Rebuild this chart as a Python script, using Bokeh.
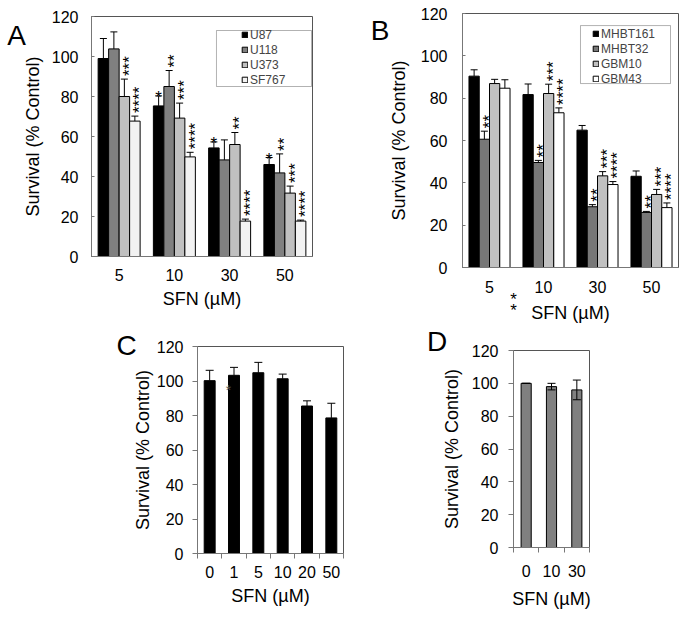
import math
from bokeh.plotting import figure
from bokeh.models import (FactorRange, Range1d, ColumnDataSource, Whisker, TeeHead,
                          Legend, LegendItem, BoxAnnotation, Label, FixedTicker)
from bokeh.transform import dodge
from bokeh.layouts import row, column
from bokeh.embed import file_html
from bokeh.resources import INLINE
from bokeh.core.properties import value

FONT = "Liberation Sans"
y_ticks = [0, 20, 40, 60, 80, 100, 120]
y_title = "Survival (% Control)"
x_title = "SFN (µM)"

# ---------------- Panel A ----------------
a_doses = ["5", "10", "30", "50"]
a_lines = ["U87", "U118", "U373", "SF767"]
a_colors = ["#000000", "#808080", "#c0c0c0", "#f2f2f2"]
a_u87 = [99.0, 75.3, 54.3, 46.0]
a_u118 = [103.8, 85.0, 48.3, 41.8]
a_u373 = [80.0, 69.2, 56.0, 31.7]
a_sf767 = [67.7, 49.8, 17.7, 17.7]
a_u87_err = [10.0, 5.0, 3.0, 3.5]
a_u118_err = [8.5, 8.0, 10.0, 9.5]
a_u373_err = [8.7, 7.5, 6.0, 3.5]
a_sf767_err = [2.5, 2.3, 1.0, 0.5]
a_u87_sig = ["", "*", "*", "*"]
a_u118_sig = ["", "**", "", "**"]
a_u373_sig = ["***", "***", "**", "***"]
a_sf767_sig = ["****", "****", "****", "****"]

# ---------------- Panel B ----------------
b_doses = ["5", "10", "30", "50"]
b_lines = ["MHBT161", "MHBT32", "GBM10", "GBM43"]
b_colors = ["#000000", "#777777", "#c0c0c0", "#ffffff"]
b_mhbt161 = [90.4, 81.7, 64.9, 43.1]
b_mhbt32 = [60.6, 49.6, 28.7, 26.0]
b_gbm10 = [86.9, 82.2, 43.3, 34.5]
b_gbm43 = [84.7, 73.1, 39.2, 28.3]
b_mhbt161_err = [3.0, 5.0, 2.2, 2.5]
b_mhbt32_err = [3.8, 1.0, 1.0, 0.5]
b_gbm10_err = [2.0, 4.4, 2.0, 2.4]
b_gbm43_err = [4.0, 2.3, 1.4, 2.2]
b_mhbt161_sig = ["", "", "", ""]
b_mhbt32_sig = ["**", "**", "**", "**"]
b_gbm10_sig = ["", "***", "***", "***"]
b_gbm43_sig = ["", "****", "****", "****"]

# ---------------- Panel C ----------------
c_doses = ["0", "1", "5", "10", "20", "50"]
c_means = [100.2, 103.3, 104.8, 101.3, 85.5, 78.6]
c_err = [6.0, 4.6, 6.0, 2.7, 3.0, 8.5]

# ---------------- Panel D ----------------
d_doses = ["0", "10", "30"]
d_means = [100.0, 98.0, 96.0]
d_err = [0.0, 2.0, 6.0]


def base_fig(x_range, width, height, left, right, top, bottom):
    p = figure(x_range=x_range, y_range=Range1d(0, 120), width=width, height=height,
               min_border_left=left, min_border_right=right,
               min_border_top=top, min_border_bottom=bottom,
               output_backend="svg", toolbar_location=None)
    p.xgrid.grid_line_color = None
    p.ygrid.grid_line_color = None
    p.outline_line_color = "#555555"
    p.background_fill_color = "white"
    p.border_fill_color = "white"
    p.yaxis.ticker = FixedTicker(ticks=y_ticks)
    for ax in p.axis:
        ax.major_label_text_font = FONT
        ax.major_label_text_font_size = "16px"
        ax.major_label_text_color = "black"
        ax.axis_label_text_font = FONT
        ax.axis_label_text_font_size = "18px"
        ax.axis_label_text_font_style = "normal"
        ax.axis_label_text_color = "black"
        ax.axis_line_color = "#777777"
        ax.major_tick_line_color = "#777777"
        ax.minor_tick_line_color = None
    p.yaxis.axis_label = y_title
    p.xaxis.axis_label = x_title
    return p


def canvas_text(p, x, y, t, size, color="black"):
    # placed in a side panel so that it is not clipped to the plot frame
    p.add_layout(Label(x=x, y=y, x_units="canvas", y_units="canvas", text=t,
                       text_align="center", text_baseline="alphabetic",
                       text_font=FONT, text_font_size=size, text_color=color), "left")


def grouped(doses, lines, colors, means, errs, sigs, dims, leg_loc, leg_font, leg_lh, box):
    p = base_fig(FactorRange(*doses), *dims)
    p.xaxis.major_tick_line_color = None
    p.yaxis.major_tick_out = 0
    p.yaxis.major_tick_in = 3
    items = []
    offs = [-0.285, -0.095, 0.095, 0.285]
    star_jobs = []
    for i, name in enumerate(lines):
        upper = [m + e for m, e in zip(means[i], errs[i])]
        src = ColumnDataSource(dict(x=doses, top=means[i], upper=upper))
        r = p.vbar(x=dodge("x", offs[i], range=p.x_range), top="top", width=0.19,
                   fill_color=colors[i], line_color="black", line_width=1, source=src)
        items.append(LegendItem(label=name, renderers=[r]))
        p.add_layout(Whisker(base=dodge("x", offs[i], range=p.x_range), upper="upper",
                             lower="top", source=src, line_color="black", line_width=1,
                             level="overlay",
                             upper_head=TeeHead(size=7, line_color="black", line_width=1),
                             lower_head=None))
        star_jobs.append((offs[i], upper, sigs[i]))
    for off, upper, sig in star_jobs:
        rot = ColumnDataSource(dict(x=[d for d, s in zip(doses, sig) if len(s) > 1],
                                    y=[u for u, s in zip(upper, sig) if len(s) > 1],
                                    t=[s for s in sig if len(s) > 1]))
        one = ColumnDataSource(dict(x=[d for d, s in zip(doses, sig) if len(s) == 1],
                                    y=[u for u, s in zip(upper, sig) if len(s) == 1],
                                    t=[s for s in sig if len(s) == 1]))
        p.text(x=dodge("x", off, range=p.x_range), y="y", text="t", source=rot,
               angle=math.pi / 2, text_align="left", text_baseline="alphabetic",
               x_offset=5, y_offset=-3, text_font=value(FONT), text_font_size="17px",
               text_color="black")
        p.text(x=dodge("x", off, range=p.x_range), y="y", text="t", source=one,
               text_align="center", text_baseline="alphabetic", y_offset=2,
               text_font=value(FONT), text_font_size="17px", text_color="black")
    leg = Legend(items=items, location=leg_loc, padding=0, margin=0, spacing=0,
                 label_height=leg_lh, glyph_height=7, glyph_width=7, label_standoff=2,
                 label_text_font=FONT, label_text_font_size=leg_font,
                 border_line_alpha=0, background_fill_alpha=0)
    p.add_layout(leg)
    p.add_layout(BoxAnnotation(left=box[0], right=box[1], bottom=box[2], top=box[3],
                               fill_alpha=0, line_color="black", line_width=1))
    return p


# Panel A
pA = grouped(a_doses, a_lines, a_colors,
             [a_u87, a_u118, a_u373, a_sf767],
             [a_u87_err, a_u118_err, a_u373_err, a_sf767_err],
             [a_u87_sig, a_u118_sig, a_u373_sig, a_sf767_sig],
             (345, 325, 91, 33, 16, 69), (150, 169), "12px", 15,
             (2.262, 3.982, 85, 113))
pA.yaxis.major_label_standoff = 13
pA.yaxis.axis_label_standoff = 6
pA.xaxis.major_label_standoff = 6
pA.xaxis.axis_label_standoff = 5
canvas_text(pA, 16, 35, "A", "28px")

# Panel B
pB = grouped(b_doses, b_lines, b_colors,
             [b_mhbt161, b_mhbt32, b_gbm10, b_gbm43],
             [b_mhbt161_err, b_mhbt32_err, b_gbm10_err, b_gbm43_err],
             [b_mhbt161_sig, b_mhbt32_sig, b_gbm10_sig, b_gbm43_sig],
             (343, 325, 117, 10, 13, 58), (130, 181), "12px", 15,
             (2.185, 3.852, 86.9, 114.3))
pB.yaxis.major_label_standoff = 15
pB.yaxis.axis_label_standoff = 9
pB.xaxis.major_label_standoff = 7
pB.xaxis.axis_label_standoff = 7
canvas_text(pB, 34.5, 30, "B", "28px")
canvas_text(pB, 168, 298.7, "*", "17px")
canvas_text(pB, 168, 309.7, "*", "17px")


def single(doses, means, errs, color, width, dims, both):
    p = base_fig(Range1d(0, len(doses)), *dims)
    centers = [i + 0.5 for i in range(len(doses))]
    bounds = list(range(len(doses) + 1))
    p.xaxis.ticker = FixedTicker(ticks=centers, minor_ticks=bounds)
    p.xaxis.major_label_overrides = {c: d for c, d in zip(centers, doses)}
    p.xaxis.major_tick_out = 0
    p.xaxis.major_tick_in = 0
    p.xaxis.minor_tick_line_color = "#777777"
    p.xaxis.minor_tick_out = 5
    p.xaxis.minor_tick_in = 0
    p.yaxis.major_tick_out = 5
    p.yaxis.major_tick_in = 0
    upper = [m + e for m, e in zip(means, errs)]
    lower = [m - e for m, e in zip(means, errs)]
    src = ColumnDataSource(dict(x=centers, top=means, upper=upper,
                                lower=lower if both else means))
    p.vbar(x="x", top="top", width=width, fill_color=color, line_color="black",
           line_width=1, source=src)
    p.add_layout(Whisker(base="x", upper="upper", lower="lower", source=src,
                         line_color="black", line_width=1, level="overlay",
                         upper_head=TeeHead(size=8, line_color="black", line_width=1),
                         lower_head=TeeHead(size=8, line_color="black", line_width=1)
                         if both else None))
    return p


pC = single(c_doses, c_means, c_err, "#000000", 0.45, (345, 293, 197, 2, 21, 65), False)
pC.yaxis.major_label_standoff = 9
pC.yaxis.axis_label_standoff = 1
pC.xaxis.major_label_standoff = 7
pC.xaxis.axis_label_standoff = 5
canvas_text(pC, 126, 20, "C", "28px")
pC.add_layout(Label(x=1.27, y=95, text="*", text_align="center", text_baseline="alphabetic",
                    text_font=FONT, text_font_size="14px", text_color="#555555"))

pD = single(d_doses, d_means, d_err, "#808080", 0.4, (343, 293, 168, 99, 25, 71), True)
pD.yaxis.major_label_standoff = 10
pD.yaxis.axis_label_standoff = 7
pD.xaxis.major_label_standoff = 12
pD.xaxis.axis_label_standoff = 9
canvas_text(pD, 91.7, 15.7, "D", "28px")

layout = column(row(column(pA), column(pB)), row(column(pC), column(pD)))
open("out.html", "w").write(file_html(layout, INLINE))
